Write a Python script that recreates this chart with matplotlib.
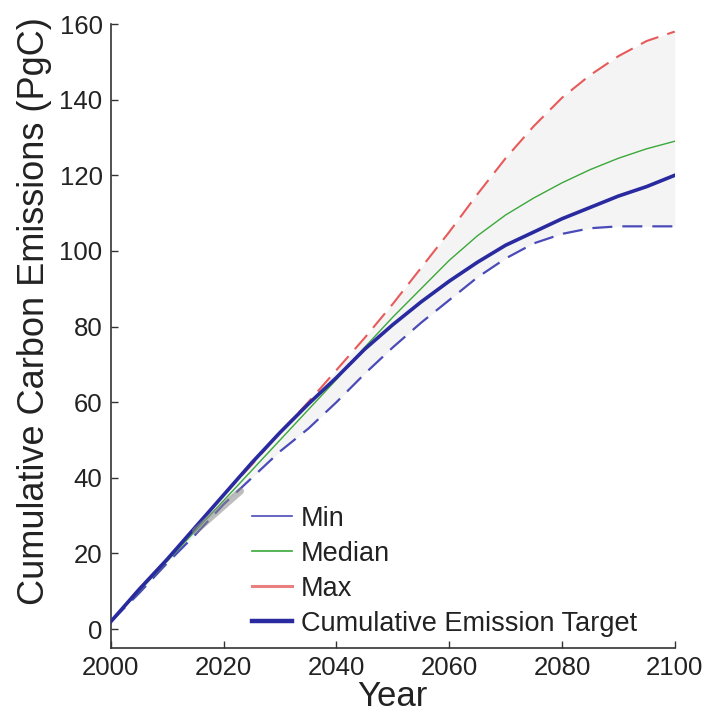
import matplotlib
matplotlib.use("Agg")
import matplotlib.pyplot as plt
from matplotlib.lines import Line2D

plt.rcParams['font.family'] = ['Liberation Sans', 'DejaVu Sans']

years = [2000, 2005, 2010, 2015, 2020, 2025, 2030, 2035, 2040, 2045, 2050,
         2055, 2060, 2065, 2070, 2075, 2080, 2085, 2090, 2095, 2100]
target = [2, 10.5, 18.5, 27, 35.5, 44, 52, 59.5, 66.5, 74, 80.5,
          86.5, 92, 97, 101.5, 105, 108.5, 111.5, 114.5, 117, 120]
median = [2, 10, 18, 26, 34, 42, 50, 58, 66, 74.5, 82.5,
          90, 97.5, 104, 109.5, 114, 118, 121.5, 124.5, 127, 129]
maxv = [2, 10.5, 18.5, 27, 35.5, 43.5, 52, 60, 68.5, 77, 86,
        95.5, 105, 115, 124.5, 133, 140.5, 146.5, 151.5, 155.5, 158]
minv = [2, 9.5, 17.5, 25, 33, 40, 47, 53, 60, 67.5, 74.5,
        81, 87, 93, 98, 102, 104.5, 106, 106.5, 106.5, 106.5]
obs_years = [2015, 2023]
obs_vals = [26, 36.5]

labels = ['Min', 'Median', 'Max', 'Cumulative Emission Target']
xticks = [2000, 2020, 2040, 2060, 2080, 2100]
yticks = [0, 20, 40, 60, 80, 100, 120, 140, 160]

fig = plt.figure(figsize=(7.11, 7.15), dpi=100)
ax = fig.add_axes([0.156, 0.0937, 0.793, 0.8727])

ax.fill_between(years, minv, maxv, color='#f4f4f4', lw=0, zorder=1)

ax.plot(years, minv, color='#4a4ab8', lw=1.6, dashes=(9, 4.5), zorder=3)
ax.plot(years, median, color='#3aa83a', lw=1.0, zorder=3)
ax.plot(years, maxv, color='#e85a5a', lw=1.5, dashes=(9, 4.5), zorder=3)
ax.plot(years, target, color='#2a2aa0', lw=2.6, zorder=4)
ax.plot(obs_years, obs_vals, color='#888888', lw=5, alpha=0.55,
        solid_capstyle='round', zorder=5)

ax.set_xlim(2000, 2100)
ax.set_ylim(-5, 160)
ax.set_xticks(xticks)
ax.set_yticks(yticks)
ax.spines['top'].set_visible(False)
ax.spines['right'].set_visible(False)
for s in ('left', 'bottom'):
    ax.spines[s].set_color('#333333')
    ax.spines[s].set_linewidth(1.2)
ax.tick_params(direction='in', length=5, width=1, colors='#333333',
               labelsize=18.5, labelcolor='#222222', pad=6)

ax.set_xlabel('Year', fontsize=25, color='#222222', labelpad=0)
ax.set_ylabel('Cumulative Carbon Emissions (PgC)', fontsize=26,
              color='#222222')
ax.yaxis.set_label_coords(-0.104, 0.54)

handles = [Line2D([], [], color='#4a4ab8', lw=1.2),
           Line2D([], [], color='#3aa83a', lw=1.2),
           Line2D([], [], color='#e88080', lw=2.2),
           Line2D([], [], color='#2a2aa0', lw=3.2)]
leg = ax.legend(handles, labels, loc='lower left', bbox_to_anchor=(0.25, 0.018),
                frameon=False, borderpad=0, borderaxespad=0, fontsize=19.5,
                handlelength=1.5, handletextpad=0.3, labelspacing=0.33)
for t in leg.get_texts():
    t.set_color('#222222')

fig.savefig('out.png', dpi=100)
